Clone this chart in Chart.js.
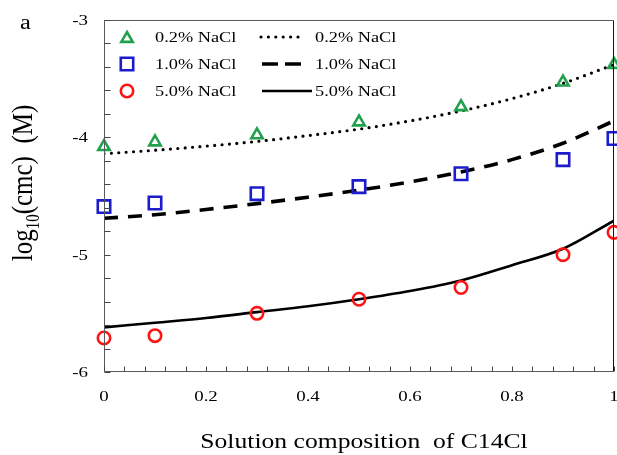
<!DOCTYPE html>
<html>
<head>
<meta charset="utf-8">
<script src="https://cdn.jsdelivr.net/npm/chart.js@4/dist/chart.umd.min.js"></script>
<style>
  html, body { margin: 0; padding: 0; background: #ffffff; }
  #wrap { width: 617px; height: 455px; }
</style>
</head>
<body>
<div id="wrap"><canvas id="cmc" width="617" height="455"></canvas></div>
<script>
// Measured critical micelle concentrations (log10 M) versus mole fraction of C14Cl
const compositions = [0, 0.1, 0.3, 0.5, 0.7, 0.9, 1.0];
const measured02 = [-4.08, -4.04, -3.98, -3.87, -3.74, -3.53, -3.38];
const measured10 = [-4.59, -4.56, -4.48, -4.42, -4.31, -4.19, -4.01];
const measured50 = [-5.71, -5.69, -5.50, -5.38, -5.28, -5.00, -4.81];

// Model predictions
const modelX = [0, 0.1, 0.2, 0.3, 0.4, 0.5, 0.6, 0.7, 0.8, 0.9, 1.0];
const model02 = [-4.14, -4.11, -4.075, -4.035, -3.985, -3.93, -3.86, -3.775, -3.67, -3.54, -3.38];
const model10 = [-4.69, -4.66, -4.615, -4.565, -4.51, -4.45, -4.38, -4.295, -4.19, -4.05, -3.86];
const model50 = [-5.62, -5.58, -5.54, -5.49, -5.44, -5.38, -5.31, -5.22, -5.09, -4.95, -4.71];

const seriesLabels = ['0.2% NaCl', '1.0% NaCl', '5.0% NaCl'];
const xTickLabels = ['0', '0.2', '0.4', '0.6', '0.8', '1'];
const yTickLabels = ['-6', '-5', '-4', '-3'];

const SERIF = "'Liberation Serif', 'Times New Roman', serif";
const STRETCH = 1.22;
const GREEN = '#22a04e';
const BLUE = '#1c1ccc';
const RED = '#ff1414';

function pairs(xs, ys) { return xs.map((x, i) => ({ x: x, y: ys[i] })); }

// text drawn slightly widened horizontally
function wideText(ctx, text, x, y, font, align) {
  ctx.save();
  ctx.font = font;
  ctx.textBaseline = 'alphabetic';
  ctx.textAlign = 'left';
  const w = ctx.measureText(text).width * STRETCH;
  let x0 = x;
  if (align === 'center') x0 = x - w / 2;
  else if (align === 'right') x0 = x - w;
  ctx.translate(x0, y);
  ctx.scale(STRETCH, 1);
  ctx.fillStyle = '#000';
  ctx.fillText(text, 0, 0);
  ctx.restore();
}

function markerSet(label, ys, color, style, radius) {
  return {
    type: 'scatter', label: label, data: pairs(compositions, ys),
    pointStyle: style, pointRadius: radius, pointHoverRadius: radius,
    pointBorderWidth: 2.6, borderColor: color, backgroundColor: 'rgba(0,0,0,0)',
    showLine: false, clip: false, order: 0, kind: 'marker'
  };
}

function modelSet(label, ys, dash, width, cap) {
  return {
    type: 'line', label: label, data: pairs(modelX, ys),
    borderColor: '#000', borderWidth: width, borderDash: dash, borderCapStyle: cap,
    pointRadius: 0, cubicInterpolationMode: 'monotone', fill: false,
    order: 1, kind: 'model'
  };
}

const datasets = [
  markerSet(seriesLabels[0], measured02, GREEN, 'triangle', 6.6),
  markerSet(seriesLabels[1], measured10, BLUE, 'rect', 8.8),
  markerSet(seriesLabels[2], measured50, RED, 'circle', 6.2),
  modelSet(seriesLabels[0], model02, [0, 7.4], 3.2, 'round'),
  modelSet(seriesLabels[1], model10, [14, 10], 3.6, 'butt'),
  modelSet(seriesLabels[2], model50, [], 2.6, 'butt')
];

const frameAndText = {
  id: 'frameAndText',
  afterDatasetsDraw(chart) {
    const ctx = chart.ctx;
    const a = chart.chartArea;
    const xs = chart.scales.x, ys = chart.scales.y;
    const L = Math.round(a.left) + 0.5, R = Math.round(a.right) - 0.5;
    const T = Math.round(a.top) + 0.5, B = Math.round(a.bottom) - 0.5;

    // plot frame
    ctx.save();
    ctx.lineWidth = 1;
    ctx.strokeStyle = '#5a5a5a';
    ctx.beginPath();
    ctx.moveTo(L, T); ctx.lineTo(R, T);
    ctx.moveTo(L, T); ctx.lineTo(L, B); ctx.lineTo(R, B);
    ctx.stroke();
    ctx.strokeStyle = '#111';
    ctx.beginPath();
    ctx.moveTo(R, T); ctx.lineTo(R, B);
    ctx.stroke();

    // inward tick marks
    ctx.strokeStyle = '#444';
    ctx.beginPath();
    for (let i = 0; i <= 15; i++) {
      const py = Math.round(ys.getPixelForValue(-6 + i * 0.2)) + 0.5;
      ctx.moveTo(L, py); ctx.lineTo(L + 6, py);
    }
    for (let i = 0; i <= 25; i++) {
      const px = Math.round(xs.getPixelForValue(i * 0.04)) + 0.5;
      ctx.moveTo(px, B); ctx.lineTo(px, B - 5);
    }
    ctx.stroke();
    ctx.restore();

    // tick labels
    const tickFont = '15.5px ' + SERIF;
    ys.ticks.forEach(t => {
      wideText(ctx, t.label, a.left - 16, ys.getPixelForValue(t.value) + 5, tickFont, 'right');
    });
    xs.ticks.forEach(t => {
      wideText(ctx, t.label, xs.getPixelForValue(t.value), a.bottom + 29, tickFont, 'center');
    });

    // axis titles
    wideText(ctx, 'Solution composition  of C14Cl', 364, 448, '21px ' + SERIF, 'center');

    ctx.save();
    ctx.translate(32, 183);
    ctx.scale(STRETCH, 1);
    ctx.rotate(-Math.PI / 2);
    ctx.fillStyle = '#000';
    ctx.textBaseline = 'alphabetic';
    ctx.textAlign = 'left';
    const parts = [['log', '25px ' + SERIF, 0], ['10', '15px ' + SERIF, 6], ['(cmc)  (M)', '25px ' + SERIF, 0]];
    let total = 0;
    parts.forEach(p => { ctx.font = p[1]; total += ctx.measureText(p[0]).width; });
    let cx = -total / 2;
    parts.forEach(p => { ctx.font = p[1]; ctx.fillText(p[0], cx, p[2]); cx += ctx.measureText(p[0]).width; });
    ctx.restore();

    wideText(ctx, 'a', 20, 29, '20px ' + SERIF, 'left');

    // legend: measured markers on the left, model lines on the right
    const rows = [37, 64, 91];
    const legFont = '15px ' + SERIF;
    const markers = chart.data.datasets.filter(d => d.kind === 'marker');
    const models = chart.data.datasets.filter(d => d.kind === 'model');
    markers.forEach((d, i) => {
      ctx.save();
      ctx.strokeStyle = d.borderColor;
      ctx.fillStyle = 'rgba(0,0,0,0)';
      ctx.lineWidth = d.pointBorderWidth;
      Chart.helpers.drawPoint(ctx, {
        pointStyle: d.pointStyle, radius: d.pointRadius, borderWidth: d.pointBorderWidth, rotation: 0
      }, 127, rows[i] + (d.pointStyle === 'triangle' ? 1.6 : 0));
      ctx.restore();
      wideText(ctx, d.label, 155, rows[i] + 5, legFont, 'left');
    });
    const sampleEnds = [[261, 305], [262, 301], [262, 312]];
    models.forEach((d, i) => {
      ctx.save();
      ctx.strokeStyle = d.borderColor;
      ctx.lineWidth = d.borderWidth;
      ctx.lineCap = d.borderCapStyle;
      ctx.setLineDash(i === 1 ? [16, 7] : d.borderDash);
      ctx.beginPath();
      ctx.moveTo(sampleEnds[i][0], rows[i]);
      ctx.lineTo(sampleEnds[i][1], rows[i]);
      ctx.stroke();
      ctx.restore();
      wideText(ctx, d.label, 315, rows[i] + 5, legFont, 'left');
    });
  }
};

new Chart(document.getElementById('cmc'), {
  data: { datasets: datasets },
  options: {
    responsive: false,
    animation: false,
    devicePixelRatio: 1,
    layout: { autoPadding: false, padding: { left: 0, top: 20, right: 3, bottom: 0 } },
    plugins: { legend: { display: false }, tooltip: { enabled: false } },
    scales: {
      x: {
        type: 'linear', min: 0, max: 1,
        grid: { display: false }, border: { display: false },
        ticks: { display: false, stepSize: 0.2, callback: (v, i) => xTickLabels[i] },
        afterFit: s => { s.height = 83; s.paddingLeft = 0; s.paddingRight = 0; }
      },
      y: {
        type: 'linear', min: -6, max: -3,
        grid: { display: false }, border: { display: false },
        ticks: { display: false, stepSize: 1, callback: (v, i) => yTickLabels[i] },
        afterFit: s => { s.width = 104; s.paddingTop = 0; s.paddingBottom = 0; }
      }
    }
  },
  plugins: [frameAndText]
});
</script>
</body>
</html>
